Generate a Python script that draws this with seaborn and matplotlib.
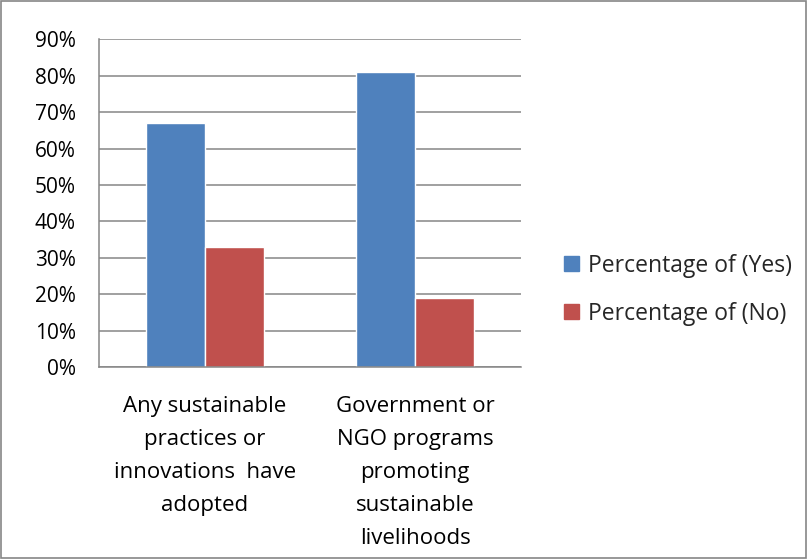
import pandas as pd
import matplotlib.pyplot as plt
import matplotlib.patches as mpatches
import seaborn as sns
from matplotlib.ticker import PercentFormatter, FixedLocator

# style
sns.set_style("white")
plt.rcParams["font.family"] = ["Open Sans", "DejaVu Sans"]

# data
categories = [
    "Any sustainable\npractices or\ninnovations  have\nadopted",
    "Government or\nNGO programs\npromoting\nsustainable\nlivelihoods",
]
series_names = ["Percentage of (Yes)", "Percentage of (No)"]
yes_values = [67, 81]
no_values = [33, 19]

df = pd.DataFrame({
    "category": categories * 2,
    "series": [series_names[0]] * 2 + [series_names[1]] * 2,
    "value": yes_values + no_values,
})

colors = ["#4F81BD", "#C0504D"]
grid_color = "#868686"

fig = plt.figure(figsize=(8.07, 5.59), dpi=100)
ax = fig.add_axes([0.123, 0.343, 0.522, 0.587])

sns.barplot(
    data=df,
    x="category",
    y="value",
    hue="series",
    palette=colors,
    width=0.56,
    errorbar=None,
    saturation=1,
    ax=ax,
    legend=False,
)

ax.set_ylim(0, 90)
ax.set_xlim(-0.5, 1.5)
ax.yaxis.set_major_locator(FixedLocator(range(0, 91, 10)))
ax.yaxis.set_major_formatter(PercentFormatter(decimals=0))
ax.yaxis.grid(True, color=grid_color, linewidth=1.1)
ax.set_axisbelow(True)

ax.set_xlabel("")
ax.set_ylabel("")

for side in ["top", "right"]:
    ax.spines[side].set_visible(False)
for side in ["left", "bottom"]:
    ax.spines[side].set_color(grid_color)
    ax.spines[side].set_linewidth(1.1)

ax.tick_params(axis="y", length=7, width=1.1, color=grid_color, pad=10,
               labelsize=15, labelcolor="black")
ax.tick_params(axis="x", which="major", length=0, pad=21,
               labelsize=16, labelcolor="black")
ax.set_xticks([0, 1])
ax.set_xticklabels(categories, linespacing=1.74)
ax.set_xticks([-0.5, 0.5, 1.5], minor=True)
ax.tick_params(axis="x", which="minor", length=6, width=1.1, color=grid_color)

handles = [mpatches.Patch(color=c, label=n) for c, n in zip(colors, series_names)]
fig.legend(
    handles=handles,
    loc="center left",
    bbox_to_anchor=(0.699, 0.482),
    frameon=False,
    fontsize=16.5,
    handlelength=0.66,
    handleheight=0.66,
    handletextpad=0.4,
    labelspacing=1.05,
    borderpad=0,
    borderaxespad=0,
)

# outer chart border
fig.patches.append(mpatches.Rectangle(
    (0.001, 0.001), 0.998, 0.997, transform=fig.transFigure,
    fill=False, edgecolor=grid_color, linewidth=1.2,
))

fig.savefig("out.png", dpi=100)
plt.close(fig)
